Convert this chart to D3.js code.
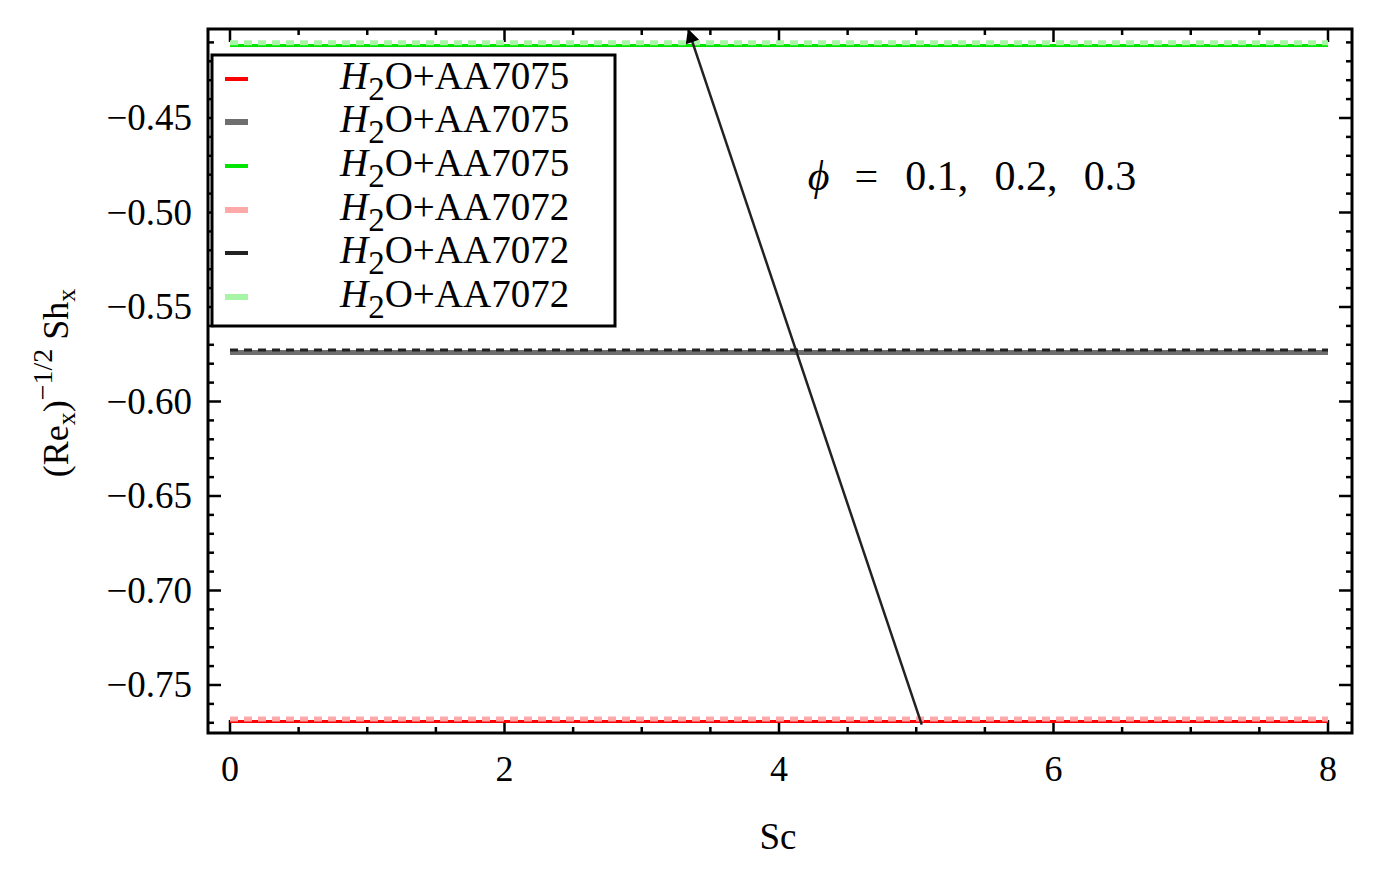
<!DOCTYPE html>
<html>
<head>
<meta charset="utf-8">
<script src="https://cdn.jsdelivr.net/npm/d3@7"></script>
<style>
  html, body { margin: 0; padding: 0; background: #fff; }
  svg { display: block; }
  text { font-family: "Liberation Serif", "Times New Roman", serif; fill: #000; }
</style>
</head>
<body>
<svg id="chart" width="1374" height="882"></svg>
<script>
// ---- data ----
const scValues = [0, 1, 2, 3, 4, 5, 6, 7, 8];
const phiValues = [0.1, 0.2, 0.3];
const seriesNames = ["H2O+AA7075", "H2O+AA7075", "H2O+AA7075", "H2O+AA7072", "H2O+AA7072", "H2O+AA7072"];
const shAA7075 = [-0.7685, -0.5733, -0.4108];   // phi = 0.1, 0.2, 0.3
const shAA7072 = [-0.7688, -0.5735, -0.4110];
const xTicks = [0, 2, 4, 6, 8];
const yTicks = [-0.75, -0.70, -0.65, -0.60, -0.55, -0.50, -0.45];
const arrowFrom = { sc: 5.04, sh: -0.7710 };
const arrowTo = { sc: 3.34, sh: -0.4035 };
const annotationParts = ["\u03d5", "=", "0.1,", "0.2,", "0.3"];

// ---- layout ----
const svg = d3.select("#chart");
const frame = { left: 208, right: 1352, top: 29, bottom: 733 };
const x = d3.scaleLinear().domain([0, 8]).range([230, 1328]);
const y = d3.scaleLinear().domain([-0.45, -0.75]).range([118, 685]);

// series styles
const styles7075 = [
  { color: "#ff0000", width: 3, dash: null },
  { color: "#6e6e6e", width: 5, dash: null },
  { color: "#00e600", width: 3, dash: null }
];
const styles7072 = [
  { color: "#ffa8a8", width: 5, dash: "8,6" },
  { color: "#222222", width: 3, dash: "8,6" },
  { color: "#a8f5a8", width: 5, dash: "8,6" }
];

// ---- frame ----
svg.append("rect")
  .attr("x", frame.left).attr("y", frame.top)
  .attr("width", frame.right - frame.left).attr("height", frame.bottom - frame.top)
  .attr("fill", "none").attr("stroke", "#000").attr("stroke-width", 3);

// ---- ticks ----
const xMinor = d3.range(0, 8.001, 0.5);
const yMinor = d3.range(-0.77, -0.4049, 0.01);
const isMajorX = v => Math.abs(v - Math.round(v / 2) * 2) < 1e-6;
const isMajorY = v => Math.abs(v * 20 - Math.round(v * 20)) < 1e-6;

const tickG = svg.append("g").attr("stroke", "#000").attr("stroke-width", 2.5);
xMinor.forEach(v => {
  const len = isMajorX(v) ? 13 : 6;
  tickG.append("line").attr("x1", x(v)).attr("x2", x(v))
    .attr("y1", frame.bottom).attr("y2", frame.bottom - len);
  tickG.append("line").attr("x1", x(v)).attr("x2", x(v))
    .attr("y1", frame.top).attr("y2", frame.top + len);
});
yMinor.forEach(v => {
  const len = isMajorY(v) ? 13 : 6;
  tickG.append("line").attr("y1", y(v)).attr("y2", y(v))
    .attr("x1", frame.left).attr("x2", frame.left + len);
  tickG.append("line").attr("y1", y(v)).attr("y2", y(v))
    .attr("x1", frame.right).attr("x2", frame.right - len);
});

// tick labels
const fmtY = d => "\u2212" + d3.format(".2f")(Math.abs(d));
svg.append("g").selectAll("text").data(xTicks).join("text")
  .attr("x", d => x(d)).attr("y", 781)
  .attr("text-anchor", "middle").attr("font-size", 36)
  .text(d => d);
svg.append("g").selectAll("text").data(yTicks).join("text")
  .attr("x", 192).attr("y", d => y(d) + 12)
  .attr("text-anchor", "end").attr("font-size", 37)
  .text(fmtY);

// axis labels
svg.append("text").attr("x", 778).attr("y", 849)
  .attr("text-anchor", "middle").attr("font-size", 37).text("Sc");

const yl = svg.append("text")
  .attr("transform", "translate(68,383) rotate(-90)")
  .attr("text-anchor", "middle").attr("font-size", 36);
yl.append("tspan").text("(Re");
yl.append("tspan").attr("font-size", 26).attr("dy", 7).text("x");
yl.append("tspan").attr("dy", -7).text(")");
yl.append("tspan").attr("font-size", 28).attr("dy", -16).text("\u22121/2");
yl.append("tspan").attr("dy", 16).text(" Sh");
yl.append("tspan").attr("font-size", 26).attr("dy", 7).text("x");

// ---- lines ----
const line = d3.line().x(d => x(d[0])).y(d => y(d[1]));
const linesG = svg.append("g");
phiValues.forEach((phi, i) => {
  const d7072 = scValues.map(s => [s, shAA7072[i]]);
  const d7075 = scValues.map(s => [s, shAA7075[i]]);
  linesG.append("path").datum(d7075).attr("d", line).attr("fill", "none")
    .attr("stroke", styles7075[i].color).attr("stroke-width", styles7075[i].width)
    .attr("transform", "translate(0,1.5)");
  linesG.append("path").datum(d7072).attr("d", line).attr("fill", "none")
    .attr("stroke", styles7072[i].color).attr("stroke-width", styles7072[i].width)
    .attr("stroke-dasharray", styles7072[i].dash)
    .attr("transform", "translate(0,-1.5)");
});

// ---- arrow ----
svg.append("defs").append("marker")
  .attr("id", "ah").attr("viewBox", "0 0 10 10").attr("refX", 9).attr("refY", 5)
  .attr("markerWidth", 18).attr("markerHeight", 14).attr("orient", "auto")
  .attr("markerUnits", "userSpaceOnUse")
  .append("path").attr("d", "M0,0 L10,5 L0,10 z").attr("fill", "#000");
svg.append("line")
  .attr("x1", x(arrowFrom.sc)).attr("y1", y(arrowFrom.sh))
  .attr("x2", x(arrowTo.sc)).attr("y2", y(arrowTo.sh))
  .attr("stroke", "#222").attr("stroke-width", 2.5)
  .attr("marker-end", "url(#ah)");

// annotation (placed as word pieces, like the reference spacing)
const annX = [x(4.21), x(4.55), x(4.92), x(5.57), x(6.22)];
const ann = svg.append("text").attr("y", 190).attr("font-size", 42);
annotationParts.forEach((p, i) => {
  ann.append("tspan").attr("x", annX[i])
    .attr("font-style", i === 0 ? "italic" : "normal").text(p);
});

// ---- legend ----
const leg = svg.append("g");
leg.append("rect").attr("x", 212).attr("y", 55).attr("width", 403).attr("height", 271)
  .attr("fill", "#fff").attr("stroke", "#000").attr("stroke-width", 3);
const legStyles = styles7075.concat(styles7072);
const rowY = [79, 122, 166, 210, 253, 297];
seriesNames.forEach((name, i) => {
  const st = legStyles[i];
  leg.append("line").attr("x1", 225).attr("x2", 248)
    .attr("y1", rowY[i]).attr("y2", rowY[i])
    .attr("stroke", st.color).attr("stroke-width", st.width + 1);
  const t = leg.append("text").attr("x", 340).attr("y", rowY[i] + 10).attr("font-size", 39);
  t.append("tspan").attr("font-style", "italic").text("H");
  t.append("tspan").attr("font-size", 33).attr("dy", 11).text("2");
  t.append("tspan").attr("dy", -11).text(name.slice(2));
});
</script>
</body>
</html>
